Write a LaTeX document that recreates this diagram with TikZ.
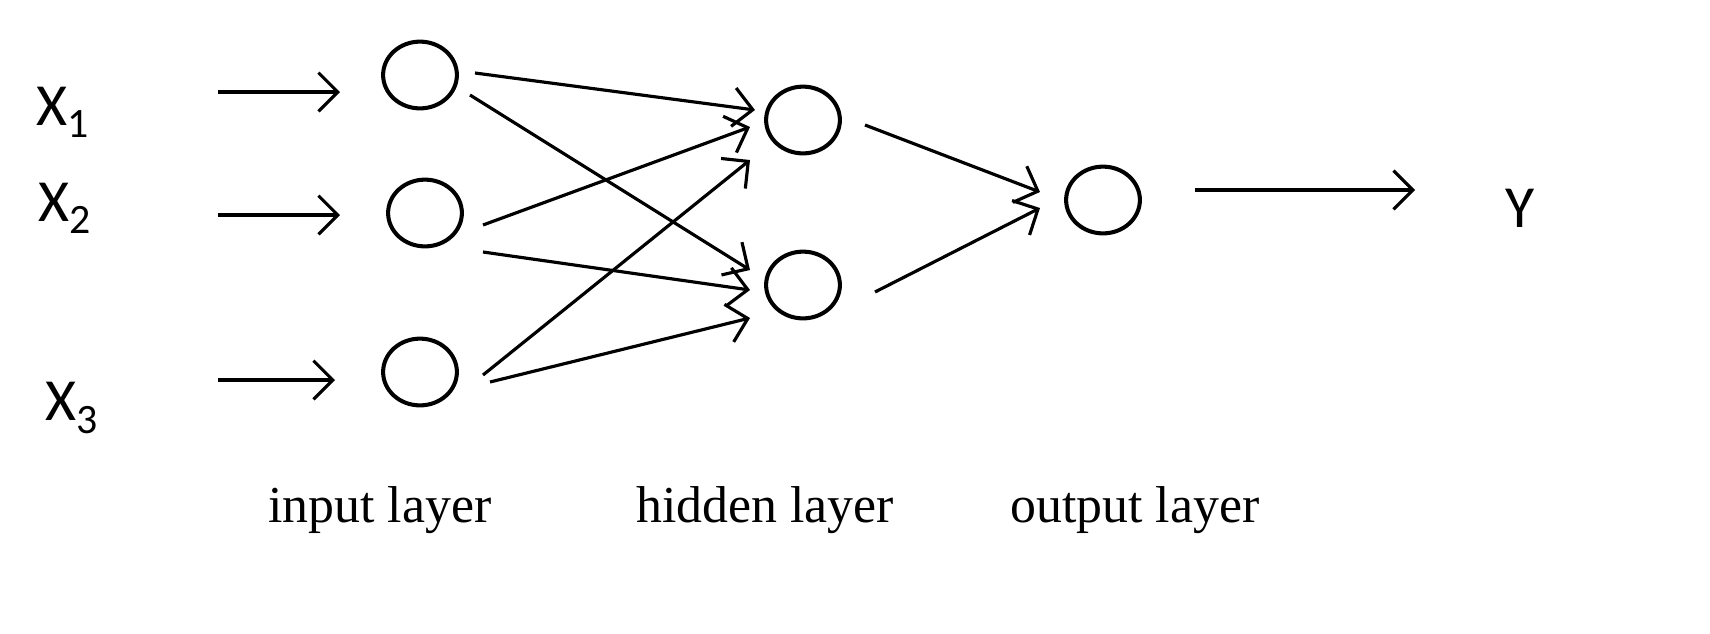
\documentclass[tikz,border=0pt]{standalone}
\usepackage{fontspec}
\setmainfont{Liberation Serif}
\newfontfamily\sansf{Carlito}
\usetikzlibrary{arrows.meta,shapes.geometric}
\begin{document}
\begin{tikzpicture}[x=0.02cm,y=-0.02cm,
  neuron/.style={draw,line width=2.3pt,ellipse,minimum width=42pt,minimum height=38pt,inner sep=0pt},
  conn/.style={line width=1.8pt,-{Straight Barb[length=11pt,width=22pt,line width=1.8pt]}},
  xl/.style={font=\sansf\fontsize{34}{38}\selectfont},
  ll/.style={font=\fontsize{29.5}{32}\selectfont}]
\useasboundingbox (0,0) rectangle (1710,633);
\node[neuron] (i1) at (420,75) {};
\node[neuron] (i2) at (425,213) {};
\node[neuron] (i3) at (420,372) {};
\node[neuron] (h1) at (803,120) {};
\node[neuron] (h2) at (803,285) {};
\node[neuron] (o) at (1103,200) {};
\coordinate (s1) at (218,92); \coordinate (e1) at (340,92);
\coordinate (s2) at (218,215); \coordinate (e2) at (340,215);
\coordinate (s3) at (218,380); \coordinate (e3) at (335,380);
\draw[conn] (s1) -- (e1);
\draw[conn] (s2) -- (e2);
\draw[conn] (s3) -- (e3);
\draw[conn] (475,73) -- (755,110);
\draw[conn] (470,95) -- (750,270);
\draw[conn] (483,225) -- (750,127);
\draw[conn] (483,252) -- (750,290);
\draw[conn] (483,375) -- (750,160);
\draw[conn] (490,382) -- (750,318);
\draw[conn] (865,125) -- (1040,192);
\draw[conn] (875,292) -- (1040,208);
\coordinate (ys) at (1195,190); \coordinate (ye) at (1415,190);
\draw[conn] (ys) -- (ye);
\node[xl] (x1) at (63,112) {X\textsubscript{1}};
\node[xl] (x2) at (65,208) {X\textsubscript{2}};
\node[xl] (x3) at (72,408) {X\textsubscript{3}};
\node[xl] (y) at (1520,208) {Y};
\node[ll] (l1) at (380,510) {input layer};
\node[ll] (l2) at (765,510) {hidden layer};
\node[ll] (l3) at (1135,510) {output layer};
\end{tikzpicture}
\end{document}
